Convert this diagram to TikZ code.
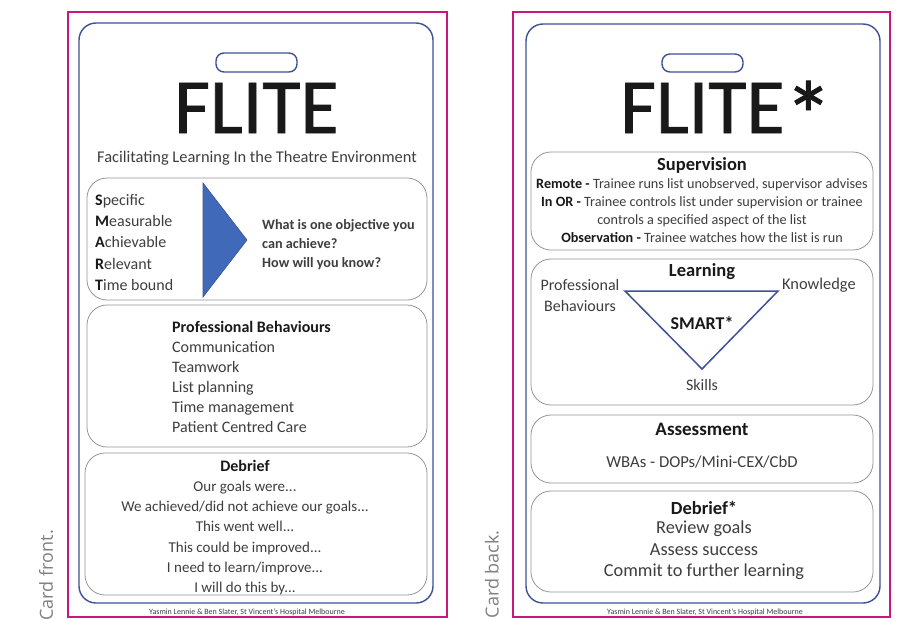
\documentclass[tikz,border=0pt]{standalone}
\usepackage{fontspec}
\setmainfont{Carlito}
\newfontfamily\notefont{Open Sans}
\newfontfamily\logofont[FakeBold=1]{Carlito}
\usetikzlibrary{positioning}
\definecolor{cardpink}{RGB}{200,24,128}
\definecolor{cardblue}{RGB}{62,80,150}
\definecolor{panelgray}{RGB}{150,150,150}
\definecolor{inkgray}{RGB}{62,62,62}
\definecolor{inkdark}{RGB}{25,25,25}
\definecolor{wedgeblue}{RGB}{64,105,185}
\tikzset{
pinkframe/.style={draw=cardpink,line width=2pt},
blueframe/.style={draw=cardblue,line width=1.4pt,rounded corners=17pt},
slot/.style={draw=cardblue,line width=1.4pt,rounded corners=8pt},
panel/.style={draw=panelgray,line width=0.8pt,rounded corners=20pt},
txt/.style={inner sep=0pt,text=inkgray},
head/.style={inner sep=0pt,text=inkdark},
logo/.style={inner sep=0pt,text=inkdark,anchor=base west,font=\logofont\fontsize{78}{78}\selectfont},
note/.style={inner sep=0pt,text=gray,rotate=90,anchor=east,font=\notefont\fontsize{18}{18}\selectfont},
credit/.style={inner sep=0pt,text=inkgray,font=\fontsize{8}{8}\selectfont},
}
\begin{document}
\begin{tikzpicture}[x=1pt,y=-1pt]
\useasboundingbox (0,0) rectangle (903,619);
\clip (0,0) rectangle (903,619);
\fill[white] (0,0) rectangle (903,619);
% card front
\draw[pinkframe] (68,12) rectangle (447,617);
\draw[blueframe] (79,23) rectangle (433,603);
\draw[slot] (216,53) rectangle (297,72);
\node[logo] (flite) at (174,133) {FLITE};
\node[txt,anchor=base,font=\fontsize{16.4}{20}\selectfont] (subtitle) at (257,162) {Facilitating Learning In the Theatre Environment};
\draw[panel] (87,178) rectangle (427,300);
\coordinate (wtop) at (203,183);
\coordinate (wtip) at (247,240);
\coordinate (wbot) at (203,297);
\draw[fill=wedgeblue,draw=cardblue,line width=0.6pt] (wtop) -- (wtip) -- (wbot) -- cycle;
\node[txt,anchor=west,align=left,font=\fontsize{16}{21.25}\selectfont] (smart) at (95,242.5)
  {{\bfseries\color{inkdark}S}pecific\\{\bfseries\color{inkdark}M}easurable\\{\bfseries\color{inkdark}A}chievable\\{\bfseries\color{inkdark}R}elevant\\{\bfseries\color{inkdark}T}ime bound};
\node[txt,anchor=west,align=left,font=\fontsize{14.2}{19}\selectfont\bfseries] (objective) at (262,245)
  {What is one objective you\\can achieve?\\How will you know?};
\draw[panel] (87,305) rectangle (427,447);
\node[txt,anchor=west,align=left,font=\fontsize{16}{20}\selectfont] (behaviours) at (172,377)
  {{\bfseries\color{inkdark}Professional Behaviours}\\Communication\\Teamwork\\List planning\\Time management\\Patient Centred Care};
\draw[panel] (85,453) rectangle (427,595);
\node[txt,align=center,font=\fontsize{15}{20.17}\selectfont] (debrief) at (245,527.5)
  {{\bfseries\color{inkdark}\fontsize{16}{20.17}\selectfont Debrief}\\Our goals were...\\We achieved/did not achieve our goals...\\This went well...\\This could be improved...\\I need to learn/improve...\\I will do this by...};
\node[credit] (creditfront) at (247,612) {Yasmin Lennie \& Ben Slater, St Vincent's Hospital Melbourne};
\node[note] (front) at (46,530) {Card front.};
% card back
\draw[pinkframe] (513,12) rectangle (890,617);
\draw[blueframe] (526,24) rectangle (880,603);
\draw[slot] (662,54) rectangle (743,72);
\node[logo] (flitestar) at (620,133) {FLITE\raisebox{-16pt}{\fontsize{96}{96}\selectfont*}};
\draw[panel] (531,152) rectangle (873,250);
\node[head,font=\fontsize{18.5}{20}\selectfont\bfseries] (supervision) at (702,165) {Supervision};
\node[txt,align=center,font=\fontsize{14.2}{18}\selectfont] (modes) at (702,211)
  {{\bfseries\color{inkdark}Remote -} Trainee runs list unobserved, supervisor advises\\
   {\bfseries\color{inkdark}In OR -} Trainee controls list under supervision or trainee\\
   controls a specified aspect of the list\\
   {\bfseries\color{inkdark}Observation -} Trainee watches how the list is run};
\draw[panel] (531,259) rectangle (873,405);
\node[head,font=\fontsize{18.5}{20}\selectfont\bfseries] (learning) at (702,272) {Learning};
\coordinate (pbcorner) at (625,291);
\coordinate (kncorner) at (778,291);
\coordinate (skcorner) at (702,369);
\draw[cardblue,line width=1.5pt,line join=miter] (pbcorner) -- (kncorner) -- (skcorner) -- cycle;
\node[txt,align=center,font=\fontsize{16}{21}\selectfont] (profbeh) at (580,295) {Professional\\Behaviours};
\node[txt,anchor=west,font=\fontsize{16.4}{20}\selectfont] (knowledge) at (782,285) {Knowledge};
\node[head,font=\fontsize{18}{20}\selectfont\bfseries] (smartstar) at (702,323) {SMART*};
\node[txt,font=\fontsize{16}{20}\selectfont] (skills) at (702,385) {Skills};
\draw[panel] (531,415) rectangle (873,483);
\node[head,font=\fontsize{19}{20}\selectfont\bfseries] (assessment) at (702,429) {Assessment};
\node[txt,font=\fontsize{16.7}{20}\selectfont] (wbas) at (702,462) {WBAs - DOPs/Mini-CEX/CbD};
\draw[panel] (531,491) rectangle (873,592);
\node[head,font=\fontsize{18.5}{20}\selectfont\bfseries] (debriefstar) at (704,508) {Debrief*};
\node[txt,align=center,font=\fontsize{18.3}{21.5}\selectfont] (review) at (704,550.5)
  {Review goals\\Assess success\\Commit to further learning};
\node[credit] (creditback) at (705,612) {Yasmin Lennie \& Ben Slater, St Vincent's Hospital Melbourne};
\node[note] (back) at (492,530) {Card back.};
\end{tikzpicture}
\end{document}
